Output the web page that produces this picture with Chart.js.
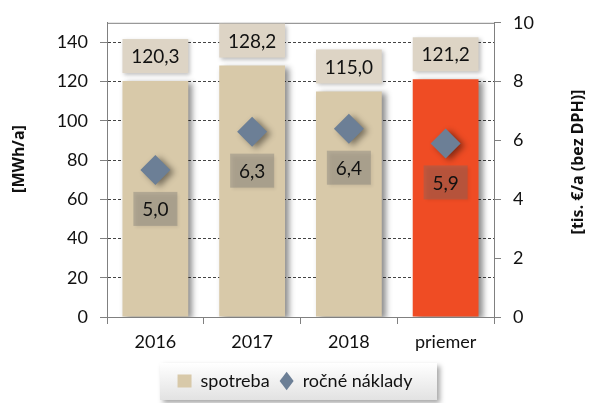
<!DOCTYPE html>
<html>
<head>
<meta charset="utf-8">
<script src="https://cdn.jsdelivr.net/npm/chart.js@4"></script>
<style>
  html, body { margin: 0; padding: 0; background: #fff; }
  #wrap { position: relative; width: 590px; height: 403px; }
</style>
</head>
<body>
<div id="wrap"><canvas id="chart"></canvas></div>
<script>
// dáta z grafu
const years = ['2016', '2017', '2018', 'priemer'];
const spotreba = [120.3, 128.2, 115.0, 121.2];
const naklady = [5.0, 6.3, 6.4, 5.9];
const leftTicks = [0, 20, 40, 60, 80, 100, 120, 140];
const rightTicks = [0, 2, 4, 6, 8, 10];

const FONT = 'Lato, "Open Sans", sans-serif';
const fmt = v => v.toFixed(1).replace('.', ',');

// tieň pod stĺpcami a bodmi
const shadowPlugin = {
  id: 'shadow',
  beforeDatasetDraw(chart) {
    const ctx = chart.ctx;
    ctx.save();
    ctx.shadowColor = 'rgba(0,0,0,0.45)';
    ctx.shadowBlur = 6;
    ctx.shadowOffsetX = 4;
    ctx.shadowOffsetY = 2;
  },
  afterDatasetDraw(chart) {
    chart.ctx.restore();
  }
};

// horná hrana plochy grafu
const frameLine = {
  id: 'frameLine',
  beforeDatasetsDraw(chart) {
    const { ctx, chartArea: a } = chart;
    ctx.save();
    ctx.strokeStyle = '#808080';
    ctx.lineWidth = 1;
    ctx.beginPath();
    ctx.moveTo(a.left, a.top + 0.5);
    ctx.lineTo(a.right, a.top + 0.5);
    ctx.stroke();
    ctx.restore();
  }
};

// popisky hodnôt v rámčekoch
const valueLabels = {
  id: 'valueLabels',
  afterDatasetsDraw(chart) {
    const ctx = chart.ctx;
    ctx.save();
    ctx.font = '19px ' + FONT;
    ctx.textAlign = 'center';
    ctx.textBaseline = 'middle';

    chart.getDatasetMeta(0).data.forEach((el, i) => {
      const w = el.width, h = 34;
      const cy = el.y - 25;
      ctx.save();
      ctx.shadowColor = 'rgba(0,0,0,0.25)';
      ctx.shadowBlur = 4;
      ctx.shadowOffsetX = 2;
      ctx.shadowOffsetY = 2;
      ctx.fillStyle = '#ddd4c5';
      ctx.fillRect(el.x - w / 2, cy - h / 2, w, h);
      ctx.restore();
      ctx.fillStyle = '#111';
      ctx.fillText(fmt(spotreba[i]), el.x, cy + 1);
    });

    chart.getDatasetMeta(1).data.forEach((el, i) => {
      const w = 44, h = 34;
      const cy = el.y + 39;
      ctx.save();
      ctx.shadowColor = 'rgba(0,0,0,0.2)';
      ctx.shadowBlur = 3;
      ctx.shadowOffsetX = 2;
      ctx.shadowOffsetY = 2;
      ctx.fillStyle = 'rgba(110,110,110,0.35)';
      ctx.fillRect(el.x - w / 2, cy - h / 2, w, h);
      ctx.restore();
      ctx.fillStyle = '#111';
      ctx.fillText(fmt(naklady[i]), el.x, cy + 1);
    });
    ctx.restore();
  }
};

// názvy osí (oba čítané zdola nahor)
const axisTitles = {
  id: 'axisTitles',
  afterDraw(chart) {
    const ctx = chart.ctx;
    [['[MWh/a]', 19, 159], ['[tis. €/a (bez DPH)]', 578, 162]].forEach(([t, x, y]) => {
      ctx.save();
      ctx.font = 'bold 16px "Noto Sans", "Open Sans", sans-serif';
      ctx.fillStyle = '#111';
      ctx.textAlign = 'center';
      ctx.textBaseline = 'middle';
      ctx.translate(x, y);
      ctx.rotate(-Math.PI / 2);
      ctx.fillText(t, 0, 0);
      ctx.restore();
    });
  }
};

// pozadie legendy
const legendBox = {
  id: 'legendBox',
  beforeDraw(chart) {
    const ctx = chart.ctx;
    const x = 160, y = 363, w = 277, h = 37;
    ctx.save();
    ctx.shadowColor = 'rgba(0,0,0,0.35)';
    ctx.shadowBlur = 5;
    ctx.shadowOffsetX = 3;
    ctx.shadowOffsetY = 3;
    const g = ctx.createLinearGradient(0, y, 0, y + h);
    g.addColorStop(0, '#ffffff');
    g.addColorStop(1, '#e2e2e2');
    ctx.fillStyle = g;
    ctx.fillRect(x, y, w, h);
    ctx.restore();
  }
};

const ctx = document.getElementById('chart');

new Chart(ctx, {
  type: 'bar',
  data: {
    labels: years,
    datasets: [
      {
        label: 'spotreba',
        data: spotreba,
        yAxisID: 'y',
        backgroundColor: ['#d8c9a9', '#d8c9a9', '#d8c9a9', '#ef4c24'],
        borderWidth: 0,
        barPercentage: 0.85,
        categoryPercentage: 0.8,
        pointStyle: 'rect',
        order: 2
      },
      {
        label: 'ročné náklady',
        type: 'line',
        data: naklady,
        yAxisID: 'y1',
        showLine: false,
        pointStyle: 'rectRot',
        pointRadius: 15,
        pointHoverRadius: 15,
        pointBackgroundColor: '#6c7f96',
        pointBorderWidth: 0,
        backgroundColor: '#6c7f96',
        borderColor: '#6c7f96',
        order: 1
      }
    ]
  },
  options: {
    responsive: true,
    maintainAspectRatio: false,
    animation: false,
    layout: { padding: { top: 19, left: 0, right: 0, bottom: 3 } },
    scales: {
      x: {
        grid: {
          offset: true,
          drawOnChartArea: false,
          tickLength: 7,
          tickColor: '#808080'
        },
        border: { color: '#808080' },
        ticks: { color: '#111', font: { family: FONT, size: 18 }, padding: 7 },
        afterFit(scale) { scale.height = 45; }
      },
      y: {
        position: 'left',
        min: 0,
        max: 150,
        afterBuildTicks(scale) {
          scale.ticks = leftTicks.map(v => ({ value: v }));
        },
        grid: {
          color: ctx => ctx.tick && ctx.tick.value === 0 ? 'rgba(0,0,0,0)' : '#444',
          lineWidth: 1,
          tickColor: '#808080',
          tickLength: 7
        },
        border: { color: '#808080', dash: [3, 2] },
        ticks: { color: '#111', font: { family: FONT, size: 18 }, padding: 12 },
        afterFit(scale) { scale.width = 107; }
      },
      y1: {
        position: 'right',
        min: 0,
        max: 10,
        afterBuildTicks(scale) {
          scale.ticks = rightTicks.map(v => ({ value: v }));
        },
        grid: {
          drawOnChartArea: false,
          tickColor: '#808080',
          tickLength: 7
        },
        border: { color: '#808080' },
        ticks: { color: '#111', font: { family: FONT, size: 18 }, padding: 12 },
        afterFit(scale) { scale.width = 96; }
      }
    },
    plugins: {
      legend: {
        position: 'bottom',
        labels: {
          usePointStyle: true,
          pointStyleWidth: 14,
          boxHeight: 13,
          color: '#111',
          font: { family: FONT, size: 18 },
          padding: 10,
          sort: (a, b) => a.datasetIndex - b.datasetIndex
        }
      },
      tooltip: { enabled: false }
    }
  },
  plugins: [legendBox, frameLine, shadowPlugin, valueLabels, axisTitles]
});
</script>
</body>
</html>
